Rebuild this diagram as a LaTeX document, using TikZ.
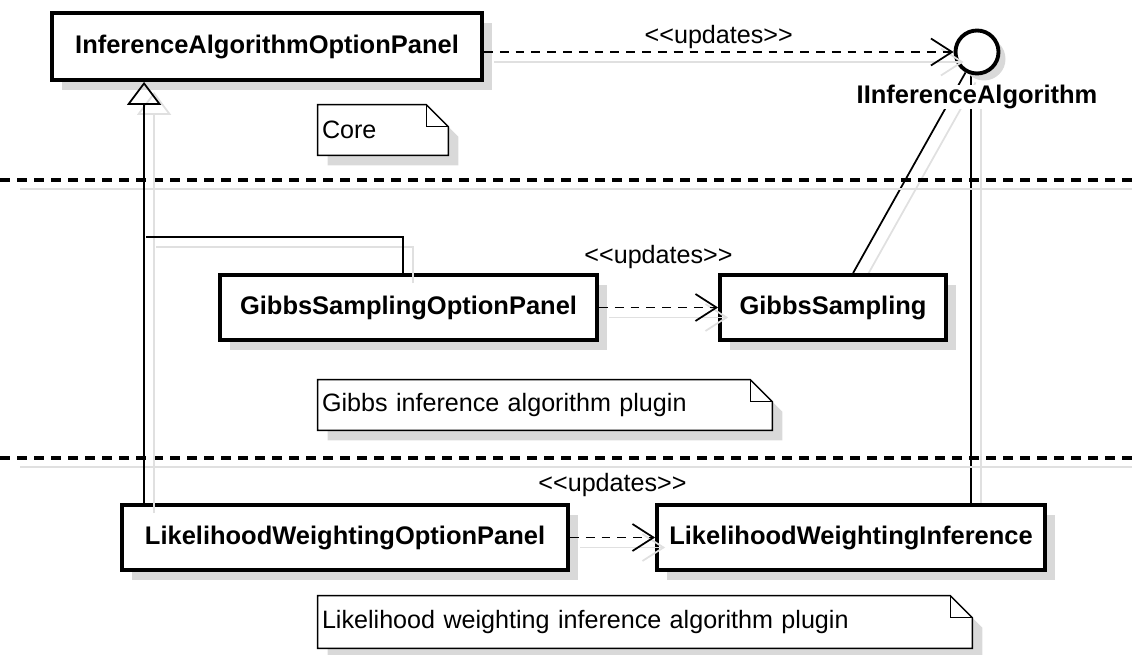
\documentclass[tikz,border=0pt]{standalone}
\usepackage{fontspec}
\setmainfont{Liberation Sans}
\usetikzlibrary{arrows.meta, shadows, backgrounds}

\begin{document}
\begin{tikzpicture}[
  classbox/.style={rectangle, draw, line width=2.2pt, fill=white, minimum height=1.3cm,
    font=\fontsize{14.5}{17}\selectfont\bfseries,
    drop shadow={shadow xshift=0.2cm, shadow yshift=-0.2cm, fill=black!15, opacity=1}},
  iface/.style={circle, draw, line width=2.2pt, fill=white, minimum size=0.86cm,
    drop shadow={shadow xshift=0.14cm, shadow yshift=-0.14cm, fill=black!15, opacity=1}},
  note/.style={rectangle, minimum height=1cm, inner xsep=0.08cm, align=left,
    font=\fontsize{14.3}{17}\selectfont},
  lbl/.style={font=\fontsize{14.3}{17}\selectfont},
  ghost/.style={preaction={draw=black!12, solid, line width=1pt,
    transform canvas={shift={(0.2,-0.2)}}}},
  updates/.style={->, >={Straight Barb[length=0.42cm, width=0.54cm]},
    dash pattern=on 5pt off 4pt, line width=1pt, ghost},
  inherit/.style={-{Triangle[open, length=0.46cm, width=0.68cm]}, line width=1pt, ghost},
  realize/.style={line width=1pt, ghost},
  separator/.style={dash pattern=on 0.2cm off 0.14cm, line width=2pt}
]
  \useasboundingbox (0, 0) rectangle (22.64, 13.08);

  % Package separators
  \draw[black!12, line width=1.5pt] (0.4, 9.3) -- (22.64, 9.3);
  \draw[separator] (0, 9.48) -- (22.64, 9.48);
  \draw[black!12, line width=1.5pt] (0.4, 3.74) -- (22.64, 3.74);
  \draw[separator] (0, 3.92) -- (22.64, 3.92);

  % Classes
  \node[classbox, minimum width=8.6cm, minimum height=1.34cm] (iaop) at (5.34, 12.15) {InferenceAlgorithmOptionPanel};
  \node[classbox, minimum width=7.54cm] (gsop) at (8.17, 6.93) {GibbsSamplingOptionPanel};
  \node[classbox, minimum width=4.52cm] (gs) at (16.66, 6.93) {GibbsSampling};
  \node[classbox, minimum width=8.92cm] (lwop) at (6.9, 2.33) {LikelihoodWeightingOptionPanel};
  \node[classbox, minimum width=7.76cm] (lwi) at (17.02, 2.33) {LikelihoodWeightingInference};
  \node[iface] (ialg) at (19.54, 12.04) {};
  \node[font=\fontsize{14.5}{17}\selectfont\bfseries, fill=white, inner sep=0pt] (ialgname) at (19.54, 11.14) {IInferenceAlgorithm};

  % Notes
  \node[note, text width=2.44cm] (core) at (7.66, 10.48) {Core};
  \node[note, text width=8.92cm] (gibbs) at (10.9, 4.98) {Gibbs inference algorithm plugin};
  \node[note, text width=12.92cm, minimum height=1.04cm] (lw) at (12.9, 0.64) {Likelihood weighting inference algorithm plugin};

  \begin{scope}[on background layer]
    \foreach \n in {core, gibbs, lw} {
      \fill[black!15, transform canvas={shift={(0.2,-0.2)}}] (\n.south west) -- (\n.north west)
        -- ([xshift=-0.44cm]\n.north east) -- ([yshift=-0.44cm]\n.north east) -- (\n.south east) -- cycle;
      \draw[fill=white, line width=0.8pt] (\n.south west) -- (\n.north west)
        -- ([xshift=-0.44cm]\n.north east) -- ([yshift=-0.44cm]\n.north east) -- (\n.south east) -- cycle;
      \draw[line width=0.8pt] ([xshift=-0.44cm]\n.north east) |- ([yshift=-0.44cm]\n.north east);
    }
  \end{scope}

  % Generalization tree
  \coordinate (gen) at ([xshift=0.48cm]lwop.north west);
  \coordinate (gsup) at ([xshift=3.7cm]gsop.north west);
  \coordinate (join) at (2.92, 8.34);
  \draw[inherit] (gen) -- (gen |- iaop.south);
  \draw[realize] (gsup) |- (join);

  % Realizations of the interface, kept under the circle and its name
  \coordinate (gsout) at ([xshift=2.7cm]gs.north west);
  \coordinate (lwiout) at ([xshift=6.32cm]lwi.north west);
  \begin{scope}[on background layer]
    \draw[realize] (gsout) -- (ialg);
    \draw[realize] (lwiout) -- (lwiout |- ialg.south);
  \end{scope}

  % Dependencies
  \draw[updates] (iaop.east |- ialg) -- (ialg) node[lbl, midway, yshift=0.3cm] {<{}<updates>{}>};
  \draw[updates] (gsop) -- (gs) node[lbl, midway, yshift=1cm] {<{}<updates>{}>};
  \draw[updates] (lwop) -- (lwi) node[lbl, midway, yshift=1.04cm] {<{}<updates>{}>};
\end{tikzpicture}
\end{document}
